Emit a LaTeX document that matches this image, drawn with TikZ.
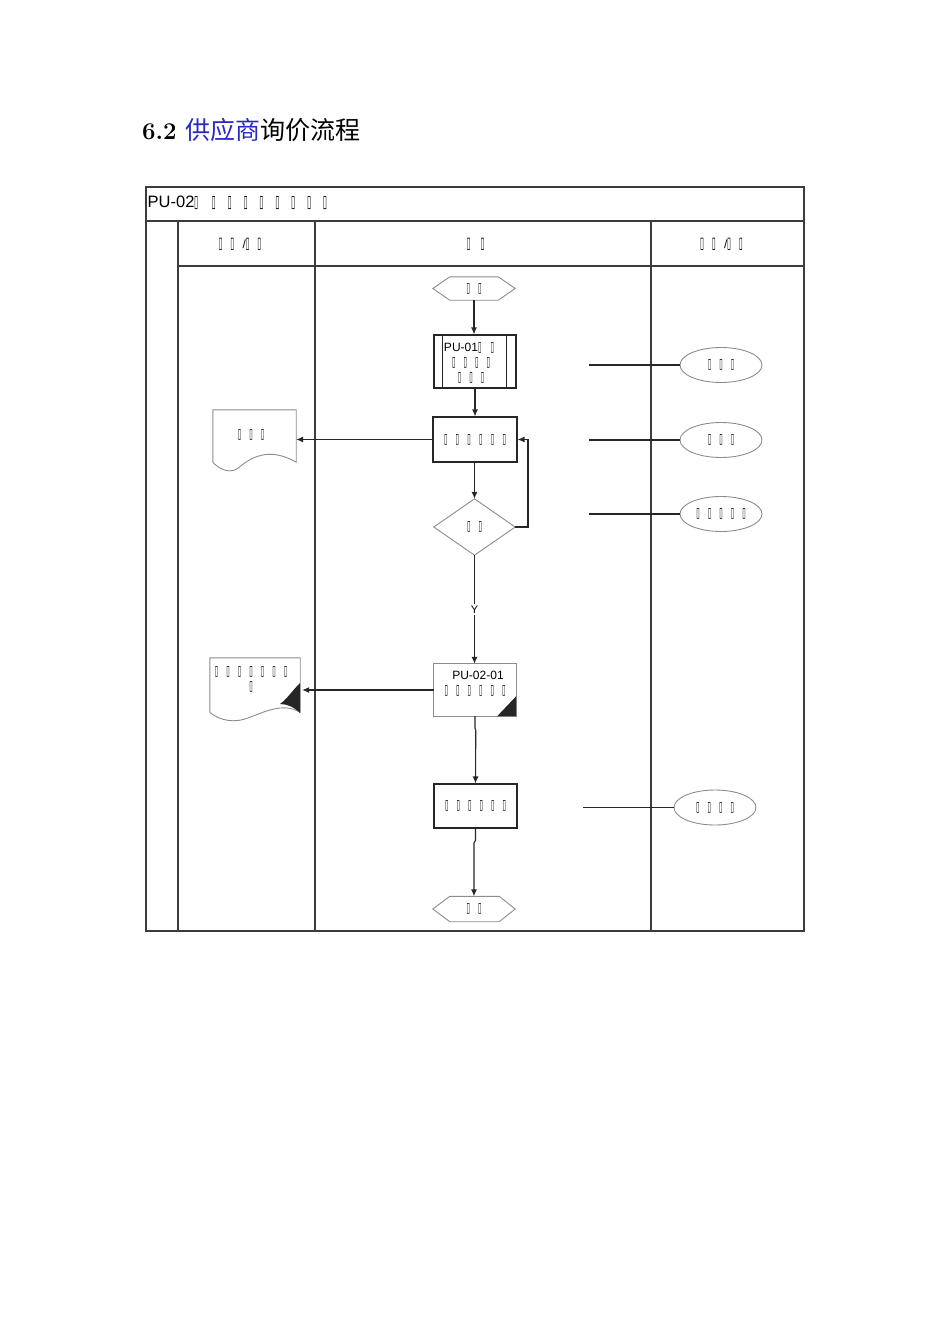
\documentclass[tikz,border=0pt]{standalone}
\usepackage{fontspec}
\usetikzlibrary{shapes.geometric,arrows.meta}
\newfontfamily\arial{Liberation Sans}
\newfontfamily\cjk{Noto Sans CJK SC}
\newfontfamily\tofuf[FakeStretch=0.45]{DejaVu Sans}
\definecolor{titleblue}{RGB}{40,40,200}
\definecolor{framegray}{RGB}{60,60,60}
\definecolor{shapegray}{RGB}{140,140,140}
\newlength\tbw \setlength\tbw{11.5pt}
\def\tbfs{14}
\newcommand\tb{\makebox[\tbw]{\tofuf\fontsize{\tbfs}{\tbfs}\selectfont ▯}}
\begin{document}
\begin{tikzpicture}[x=1pt,y=-1pt,
  frame/.style={draw=framegray, line width=1.2pt},
  conn/.style={draw=black!85, line width=1.1pt},
  arr/.style={conn, -{Latex[length=7pt,width=6pt]}},
  lab/.style={font=\arial\fontsize{12}{15}\selectfont, inner sep=0pt, align=center},
  blackbox/.style={draw=black!85, line width=1.1pt, minimum width=#1, inner sep=0pt},
  grayline/.style={draw=shapegray, line width=0.9pt},
  ell/.style={ellipse, draw=shapegray, line width=0.9pt, minimum width=82pt, minimum height=35pt, inner sep=0pt, font=\arial\fontsize{12}{15}\selectfont}
]
\useasboundingbox (0,0) rectangle (950,1344);

% title
\node[anchor=base west, inner sep=0pt] (title) at (142,139)
  {\fontsize{24}{28}\selectfont\bfseries 6.2 {\cjk\mdseries\fontsize{25}{28}\selectfont{\color{titleblue}供应商}询价流程}};

% frame
\draw[frame] (146,187) rectangle (804,931);
\draw[frame, line width=1.7pt] (146,221) -- (804,221);
\draw[frame] (178,221) -- (178,931);
\draw[frame] (315,221) -- (315,931);
\draw[frame] (651,221) -- (651,931);
\draw[frame] (178,266) -- (804,266);

\node[lab, anchor=west, font=\arial\fontsize{16.5}{18}\selectfont] (hdr) at (147.5,203)
  {\setlength\tbw{15.9pt}\def\tbfs{17}PU-02\kern-6.3pt\tb\kern1.8pt\tb\tb\tb\tb\tb\tb\tb\tb};
\node[lab] (h1) at (240,244) {\setlength\tbw{11.7pt}\def\tbfs{16}\tb\tb\kern4.5pt/\kern-4.2pt\tb\tb};
\node[lab] (h2) at (475.5,244) {\setlength\tbw{14pt}\def\tbfs{16}\tb\tb};
\node[lab] (h3) at (721.5,244) {\setlength\tbw{11.7pt}\def\tbfs{16}\tb\tb\kern4.5pt/\kern-4.2pt\tb\tb};

% start hexagon
\node[lab, minimum width=82pt, minimum height=23pt] (start) at (474,288.5) {\tb\tb};
\draw[grayline] (start.west) -- ([xshift=17pt]start.north west) -- ([xshift=-17pt]start.north east)
  -- (start.east) -- ([xshift=-17pt]start.south east) -- ([xshift=17pt]start.south west) -- cycle;

% predefined process
\node[blackbox=82pt, minimum height=53pt] (pre) at (475,361.5) {};
\draw[draw=black!85, line width=1.1pt] ([xshift=9pt]pre.north west) -- ([xshift=9pt]pre.south west);
\draw[draw=black!85, line width=1.1pt] ([xshift=-10pt]pre.north east) -- ([xshift=-10pt]pre.south east);
\node[lab] (pretext) at (471,363) {PU-01\kern-4pt\tb\kern1pt\tb\\\tb\tb\tb\tb\\\tb\tb\tb};

% process 1
\node[blackbox=84pt, minimum height=45pt, lab, draw=black!85, line width=1.1pt] (p1) at (475,439.5) {\setlength\tbw{11.7pt}\tb\tb\tb\tb\tb\tb};

% decision
\node[lab, minimum width=81pt, minimum height=56pt] (dec) at (474.5,527) {\tb\tb};
\draw[grayline] (dec.north) -- (dec.east) -- (dec.south) -- (dec.west) -- cycle;
\coordinate (loopa) at (528,527);
\coordinate (loopb) at (528,439.5);

% PU-02-01 document box
\node[minimum width=82pt, minimum height=52pt, inner sep=0pt] (doc) at (475,690) {};
\draw[grayline] (doc.north west) rectangle (doc.south east);
\fill[black!85] ([yshift=20pt]doc.south east) -- (doc.south east) -- ([xshift=-19pt]doc.south east) -- cycle;
\node[lab] (doctext) at (475,684) {\kern6pt PU-02-01\\\tb\tb\tb\tb\tb\tb};

% process 2
\node[blackbox=83pt, minimum height=44pt, lab, draw=black!85, line width=1.1pt] (p2) at (475.5,806) {\tb\tb\tb\tb\tb\tb};

% end hexagon
\node[lab, minimum width=82pt, minimum height=25pt] (stop) at (474,909) {\tb\tb};
\draw[grayline] (stop.west) -- ([xshift=17pt]stop.north west) -- ([xshift=-16pt]stop.north east)
  -- (stop.east) -- ([xshift=-16pt]stop.south east) -- ([xshift=17pt]stop.south west) -- cycle;

% left documents
\node[minimum width=83pt, minimum height=52pt, inner sep=0pt] (d1) at (254.5,436) {};
\draw[grayline] (d1.south west) -- (d1.north west) -- (d1.north east) -- (d1.south east)
  .. controls (268,446) and (250,458) .. (237,469)
  .. controls (228,474) and (218,468) .. (d1.south west);
\node[lab] (d1text) at (251,435) {\tb\tb\tb};

\node[minimum width=90pt, minimum height=54pt, inner sep=0pt] (d2) at (255,685) {};
\draw[grayline] (d2.south west) -- (d2.north west) -- (d2.north east) -- (d2.south east)
  .. controls (282,702) and (265,712) .. (245,719)
  .. controls (228,724) and (215,717) .. (d2.south west);
\fill[black!85] (300,683) .. controls (292,691) and (287,699) .. (280,704) .. controls (287,704) and (294,707) .. (300,713) -- cycle;
\node[lab] (d2text) at (251,679.5) {\tb\tb\tb\tb\tb\tb\tb\\\tb};

% right ellipses
\node[ell] (e1) at (721,365) {\tb\tb\tb};
\node[ell] (e2) at (721,440) {\tb\tb\tb};
\node[ell] (e3) at (721,514) {\tb\tb\tb\tb\tb};
\node[ell] (e4) at (715,807.5) {\tb\tb\tb\tb};
\coordinate (s1) at (589,365);
\coordinate (s2) at (589,440);
\coordinate (s3) at (589,514);
\coordinate (s4) at (583,807.5);
\draw[conn] (s1) -- (e1.west);
\draw[conn] (s2) -- (e2.west);
\draw[conn] (s3) -- (e3.west);
\draw[conn] (s4) -- (e4.west);

% connectors
\draw[arr] (start.south) -- (start.south |- pre.north);
\draw[arr] (pre.south -| p1.north) -- (p1.north);
\draw[arr] (p1.south -| dec.north) -- (dec.north);
\draw[arr] (dec.east) -- (loopa) -- (loopb) -- (p1.east);
\draw[arr] (p1.west) -- (d1.east |- p1.west);
\draw[arr] (dec.south) -- node[pos=0.5, fill=white, inner sep=1.5pt, font=\arial\fontsize{11}{12}\selectfont]{Y} (dec.south |- doc.north);
\draw[arr] (doc.west) -- ([xshift=2pt]d2.east |- doc.west);
\draw[arr] (doc.south) -- ++(0,12) -- ++(0.8,2) -- (p2.north);
\draw[arr] (p2.south) -- ++(0,12) -- ++(-1.5,2) -- (stop.north);
\end{tikzpicture}
\end{document}
